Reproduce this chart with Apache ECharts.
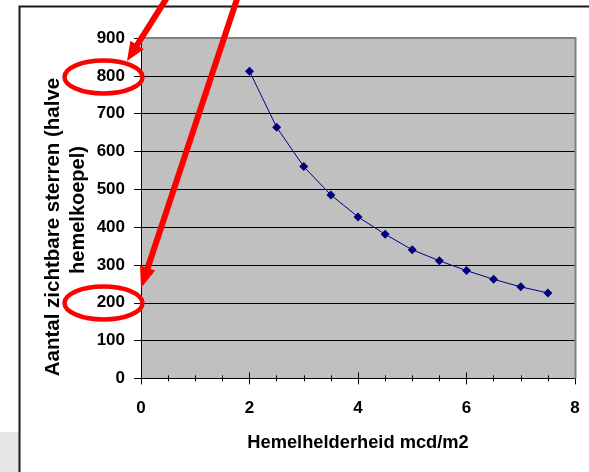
<!DOCTYPE html>
<html><head><meta charset="utf-8">
<script src="https://cdn.jsdelivr.net/npm/echarts@6/dist/echarts.min.js"></script>
<style>html,body{margin:0;padding:0;background:#fff;}#c{width:589px;height:472px;}</style>
</head><body><div id="c"></div>
<script>
const brightness = [2, 2.5, 3, 3.5, 4, 4.5, 5, 5.5, 6, 6.5, 7, 7.5];
const stars = [812, 664, 560, 485, 427, 381, 340, 311, 285, 262, 242, 226];
const xTitle = 'Hemelhelderheid mcd/m2';
const yTitleLines = ['Aantal zichtbare sterren (halve', 'hemelkoepel)'];

const chart = echarts.init(document.getElementById('c'), null, {renderer: 'canvas'});
const font = '"Liberation Sans", Arial, sans-serif';
const red = '#ff0000';

function arrow(x0, y0, x1, y1, len, hw) {
  const dx = x1 - x0, dy = y1 - y0, L = Math.hypot(dx, dy);
  const ux = dx / L, uy = dy / L;
  const bx = x1 - ux * len, by = y1 - uy * len;
  const px = -uy * hw, py = ux * hw;
  return [
    {type: 'line', z: 100, shape: {x1: x0, y1: y0, x2: bx + ux * 2, y2: by + uy * 2}, style: {stroke: red, lineWidth: 6}},
    {type: 'polygon', z: 100, shape: {points: [[x1, y1], [bx + px, by + py], [bx - px, by - py]]}, style: {fill: red}}
  ];
}

chart.setOption({
  animation: false,
  backgroundColor: '#fff',
  grid: {left: 141, top: 38, right: 14, bottom: 93.6, show: true, backgroundColor: '#c0c0c0', borderWidth: 0},
  xAxis: [{
    type: 'value', min: 0, max: 8, interval: 2, position: 'bottom',
    axisLine: {show: true, onZero: false, lineStyle: {color: '#000', width: 1}},
    axisTick: {show: true, length: 6, lineStyle: {color: '#000', width: 1}},
    minorTick: {show: true, splitNumber: 4, length: 3, lineStyle: {color: '#000', width: 1}},
    axisLabel: {color: '#000', fontFamily: font, fontWeight: 'bold', fontSize: 17, margin: 21},
    splitLine: {show: false}
  }, {
    type: 'value', min: 0, max: 8, interval: 2, position: 'bottom',
    axisLine: {show: false, onZero: false},
    axisTick: {show: true, inside: true, length: 6, lineStyle: {color: '#000', width: 1}},
    minorTick: {show: true, splitNumber: 4, length: 3, lineStyle: {color: '#000', width: 1}},
    axisLabel: {show: false}, splitLine: {show: false}
  }],
  yAxis: {
    type: 'value', min: 0, max: 900, interval: 100,
    axisLine: {show: true, lineStyle: {color: '#000', width: 1}},
    axisTick: {show: true, length: 7, lineStyle: {color: '#000', width: 1}},
    axisLabel: {color: '#000', fontFamily: font, fontWeight: 'bold', fontSize: 17, margin: 16},
    splitLine: {show: true, lineStyle: {color: '#000', width: 1}}
  },
  series: [{
    type: 'line', xAxisIndex: 0,
    data: brightness.map((x, i) => [x, stars[i]]),
    symbol: 'diamond', symbolSize: 9, showSymbol: true,
    lineStyle: {color: '#000080', width: 1},
    itemStyle: {color: '#000080'}
  }],
  graphic: [
    {type: 'rect', z: -10, silent: true, shape: {x: 0, y: 432, width: 19, height: 40}, style: {fill: '#e6e6e6'}},
    {type: 'rect', z: -5, silent: true, shape: {x: 19.5, y: 6.5, width: 600, height: 500}, style: {fill: 'none', stroke: '#1a1a1a', lineWidth: 2}},
    {type: 'polyline', z: 5, silent: true, shape: {points: [[141, 38], [575.5, 38], [575.5, 378.4]]}, style: {stroke: '#808080', lineWidth: 2, fill: null}},
    {type: 'text', z: 10, x: 358, y: 443, style: {text: xTitle, font: 'bold 18.3px ' + font, fill: '#000', align: 'center', verticalAlign: 'middle'}},
    {type: 'text', z: 10, x: 53, y: 227, rotation: Math.PI / 2, style: {text: yTitleLines[0], font: 'bold 20.5px ' + font, fill: '#000', align: 'center', verticalAlign: 'middle'}},
    {type: 'text', z: 10, x: 78, y: 210, rotation: Math.PI / 2, style: {text: yTitleLines[1], font: 'bold 20px ' + font, fill: '#000', align: 'center', verticalAlign: 'middle'}},
    {type: 'ellipse', z: 100, shape: {cx: 103.5, cy: 77, rx: 39, ry: 16.5}, style: {fill: 'none', stroke: red, lineWidth: 4.5}},
    {type: 'ellipse', z: 100, shape: {cx: 103.5, cy: 303, rx: 39, ry: 16.5}, style: {fill: 'none', stroke: red, lineWidth: 4.5}},
    ...arrow(168, -4, 127, 61, 19, 8),
    ...arrow(238, -4, 141, 288, 21, 8)
  ]
});
</script></body></html>
